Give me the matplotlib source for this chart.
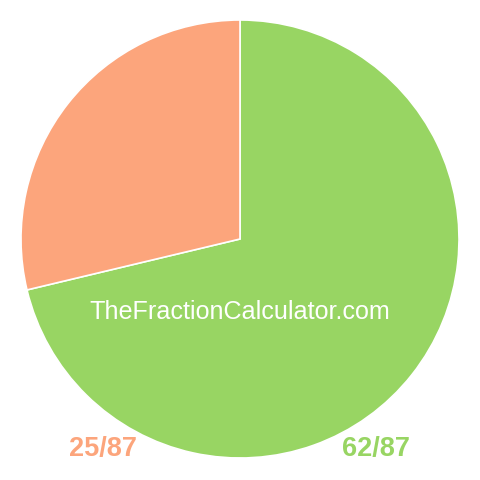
import matplotlib
matplotlib.use("Agg")
import matplotlib.pyplot as plt

labels = ["62/87", "25/87"]
values = [62, 25]
colors = ["#98d563", "#fca57c"]
watermark = "TheFractionCalculator.com"

H = 480  # figure height in px, y measured from top below

fig = plt.figure(figsize=(4.8, 4.8), dpi=100)
ax = fig.add_axes([0, 0, 1, 1])

ax.pie(values, colors=colors, startangle=90, counterclock=False,
       center=(240, H - 239), radius=219,
       wedgeprops=dict(edgecolor="white", linewidth=1.2))
ax.set_xlim(0, 480)
ax.set_ylim(0, 480)
ax.set_aspect("equal")
ax.axis("off")

ax.text(240, H - 312, watermark, color="white", fontsize=18.1,
        family="Liberation Sans", ha="center", va="center")

ax.text(103, H - 449, labels[1], color=colors[1], fontsize=19.5, fontweight="bold",
        family="Liberation Sans", ha="center", va="center")
ax.text(376, H - 449, labels[0], color=colors[0], fontsize=19.5, fontweight="bold",
        family="Liberation Sans", ha="center", va="center")

fig.savefig("out.png", dpi=100)
